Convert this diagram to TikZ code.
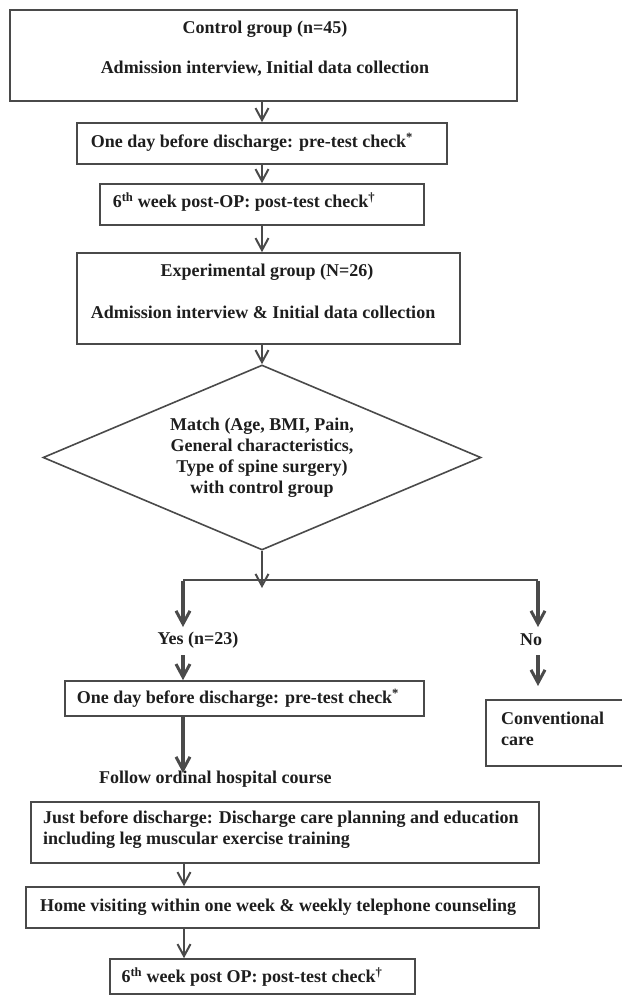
\documentclass[tikz,border=0pt]{standalone}
\usepackage{fontspec}
\setmainfont{Liberation Serif}
\usetikzlibrary{arrows.meta,shapes.geometric}
\definecolor{ln}{HTML}{4A4A4A}
\definecolor{tx}{HTML}{1E1E1E}
\tikzset{
  box/.style={draw=ln, line width=1.6pt, rectangle, inner sep=0pt},
  txt/.style={text=tx, font=\fontsize{18}{21}\selectfont\bfseries, inner sep=0pt},
  thin/.style={draw=ln, line width=2pt, -{Straight Barb[length=12pt,width=13pt,line width=2pt]}},
  thick/.style={draw=ln, line width=3.5pt, -{Straight Barb[length=13pt,width=14pt,line width=3pt]}},
}
\newcommand{\bx}[5]{\node[box, minimum width=#3-#2, minimum height=#5-#4] (#1) at ({(#2+#3)/2},{(#4+#5)/2}) {};}
\begin{document}
\begin{tikzpicture}[x=1pt,y=-1pt]
\useasboundingbox (0,0) rectangle (621,995);
% boxes
\bx{ctrl}{10}{517}{10}{101}
\bx{pre1}{77}{447}{123}{164}
\bx{post1}{100}{424}{184}{225}
\bx{exp}{77}{460}{253}{344}
\node[draw=ln, line width=1.6pt, diamond, inner sep=0pt, minimum width=438pt, minimum height=185pt] (match) at (262,457.5) {};
\bx{pre2}{65}{424}{681}{716}
\bx{conv}{486}{630}{700}{766}
\bx{just}{31}{539}{802}{863}
\bx{home}{26}{539}{887}{928}
\bx{post2}{110}{415}{959}{994}
% texts
\node[txt] (t1) at (265,29) {Control group (n=45)};
\node[txt] (t2) at (265,69) {Admission interview, Initial data collection};
\node[txt] (t3) at (252,142) {One day before discharge: pre-test check\textsuperscript{*}};
\node[txt] (t4) at (244,202) {6\textsuperscript{th} week post-OP: post-test check\textsuperscript{\dag}};
\node[txt] (t5) at (267,272) {Experimental group (N=26)};
\node[txt] (t6) at (263,312) {Admission interview \& Initial data collection};
\node[txt, align=center] (t7) at (262,458) {Match (Age, BMI, Pain,\\General characteristics,\\Type of spine surgery)\\with control group};
\node[txt] (yes) at (198,640) {Yes (n=23)};
\node[txt] (no) at (531,640) {No};
\node[txt] (t8) at (238,698) {One day before discharge: pre-test check\textsuperscript{*}};
\node[txt, anchor=west, align=left] (t9) at (501,728.5) {Conventional\\care};
\node[txt, anchor=west] (follow) at (99,779) {Follow ordinal hospital course};
\node[txt, anchor=west, align=left] (t10) at (43,830) {Just before discharge: Discharge care planning and education\\including leg muscular exercise training};
\node[txt] (t11) at (278,907) {Home visiting within one week \& weekly telephone counseling};
\node[txt] (t12) at (252,977) {6\textsuperscript{th} week post OP: post-test check\textsuperscript{\dag}};
% connectors
\coordinate (jn) at (262,580);
\coordinate (jl) at (183,580);
\coordinate (jr) at (538,580);
\draw[thin] (ctrl.south -| 262,0) -- (pre1.north -| 262,0);
\draw[thin] (pre1.south -| 262,0) -- (post1.north -| 262,0);
\draw[thin] (post1.south -| 262,0) -- (exp.north -| 262,0);
\draw[thin] (exp.south -| 262,0) -- (match.north);
\draw[thin, shorten >=-8pt] (match.south) -- (jn);
\draw[draw=ln, line width=2pt] (jl) -- (jr);
\draw[thick] ([yshift=-1pt]jl) -- (183,627);
\draw[thick] ([yshift=-1pt]jr) -- (538,627);
\draw[thick] (183,655) -- (pre2.north -| 183,0);
\draw[thick] (538,655) -- (538,686);
\draw[thick] (pre2.south -| 183,0) -- (183,773);
\draw[thin] (just.south -| 184,0) -- (home.north -| 184,0);
\draw[thin] (home.south -| 184,0) -- (post2.north -| 184,0);
\end{tikzpicture}
\end{document}
